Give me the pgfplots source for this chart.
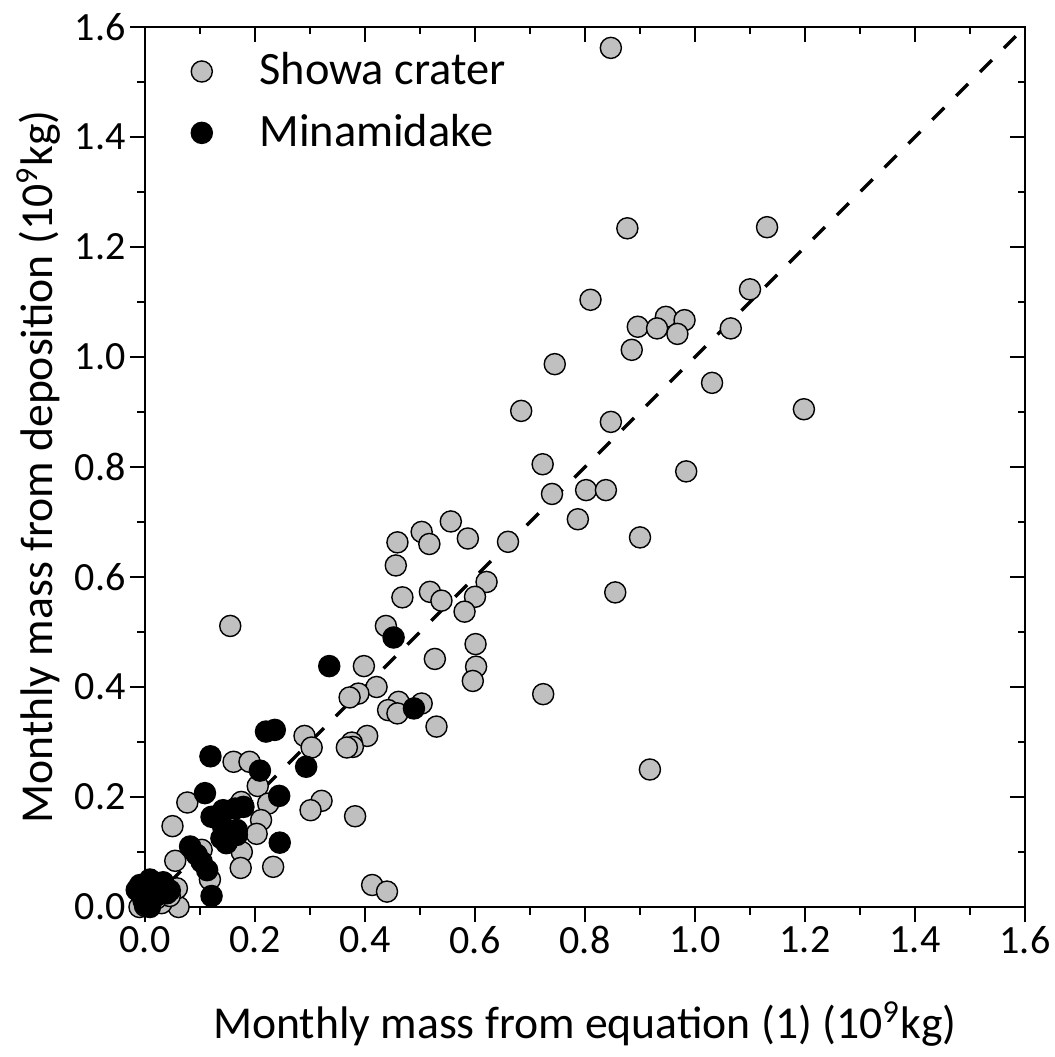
\documentclass[border=0pt]{standalone}
\usepackage{pgfplots}
\pgfplotsset{compat=1.18}
\usepackage{fontspec}
\setmainfont{Carlito}
\definecolor{showa}{RGB}{192,192,192}

\pgfplotstableread{
x y
0.847 1.562
0.877 1.234
1.131 1.236
0.810 1.104
1.100 1.123
0.947 1.073
0.981 1.067
0.896 1.055
0.931 1.052
0.968 1.042
1.065 1.052
0.885 1.013
0.745 0.987
1.031 0.953
1.198 0.905
0.684 0.902
0.847 0.882
0.723 0.805
0.984 0.792
0.802 0.758
0.838 0.758
0.740 0.751
0.787 0.705
0.556 0.701
0.503 0.682
0.900 0.672
0.587 0.670
0.660 0.664
0.459 0.663
0.517 0.660
0.456 0.621
0.621 0.591
0.855 0.572
0.518 0.573
0.468 0.563
0.600 0.564
0.539 0.557
0.581 0.537
0.155 0.511
0.438 0.511
0.601 0.478
0.527 0.451
0.398 0.438
0.602 0.437
0.421 0.400
0.596 0.411
0.724 0.387
0.388 0.388
0.372 0.381
0.461 0.373
0.503 0.370
0.442 0.358
0.459 0.352
0.530 0.328
0.290 0.311
0.404 0.311
0.303 0.290
0.376 0.299
0.378 0.291
0.367 0.290
0.918 0.250
0.161 0.264
0.190 0.264
0.205 0.220
0.224 0.188
0.175 0.191
0.077 0.190
0.321 0.193
0.301 0.176
0.382 0.165
0.211 0.158
0.050 0.147
0.203 0.133
0.176 0.100
0.103 0.104
0.055 0.084
0.174 0.071
0.233 0.073
0.118 0.050
0.061 0.000
0.413 0.040
0.440 0.028
-0.010 0.000
0.000 0.002
0.030 0.007
0.058 0.034
0.045 0.020
0.020 0.015
}\showatab

\pgfplotstableread{
x y
0.452 0.490
0.335 0.438
0.489 0.361
0.220 0.319
0.236 0.322
0.293 0.255
0.119 0.274
0.209 0.248
0.244 0.202
0.109 0.207
0.121 0.164
0.142 0.176
0.164 0.179
0.179 0.182
0.167 0.140
0.142 0.146
0.139 0.125
0.148 0.116
0.167 0.131
0.245 0.117
0.082 0.110
0.094 0.095
0.103 0.082
0.113 0.067
0.121 0.020
-0.009 0.040
0.009 0.050
0.033 0.045
-0.015 0.031
0.021 0.031
0.045 0.030
-0.003 0.013
0.009 0.000
0.020 0.020
0.030 0.035
0.040 0.025
0.000 0.005
}\minamitab

\begin{document}
\begin{tikzpicture}
\pgfplotsset{
  myframe/.style={
    at={(0,0)}, anchor=south west,
    scale only axis, width=8.8cm, height=8.8cm,
    xmin=0, xmax=1.6, ymin=0, ymax=1.6,
    clip=false,
    axis line style={line width=0.8pt},
    every tick/.style={line width=0.8pt, black},
    major tick length=0.15cm, minor tick length=0.075cm,
    xtick={0,0.2,...,1.6}, ytick={0,0.2,...,1.6}, minor tick num=1,
  }
}
% inner ticks on top and right
\begin{axis}[myframe,
  tick align=inside, xtick pos=right, ytick pos=right,
  xticklabels={}, yticklabels={}]
\end{axis}
\begin{axis}[myframe,
  tick align=outside, xtick pos=left, ytick pos=left,
  ticklabel style={font=\fontsize{11.4}{13}\selectfont},
  xticklabel style={yshift=0.08cm},
  yticklabel style={xshift=0.08cm},
  /pgf/number format/.cd, fixed, fixed zerofill, precision=1, assume math mode=true,
  /pgfplots/.cd,
  xlabel={Monthly mass from equation (1) (10\textsuperscript{9}kg)},
  ylabel={Monthly mass from deposition (10\textsuperscript{9}kg)},
  label style={font=\fontsize{13.0}{16}\selectfont},
  xlabel style={at={(axis description cs:0.5,-0.133)}, anchor=center},
  ylabel style={at={(axis description cs:-0.121,0.5)}, anchor=center, rotate=0},
  legend style={at={(rel axis cs:0,1)}, anchor=north west, draw=none, fill=none,
    font=\fontsize{13.2}{16}\selectfont, xshift=0.35cm, yshift=-0.11cm, row sep=2.8pt},
  legend cell align=left,
  legend image code/.code={\draw[#1] plot coordinates {(0cm,0cm)};},
  /tikz/every odd column/.append style={column sep=0.4cm},
]
\addplot[black, line width=1pt, dash pattern=on 4.8pt off 4.8pt, forget plot] coordinates {(0,0) (1.6,1.6)};
\addplot[only marks, mark=*, mark size=3pt, mark options={fill=showa, draw=black, line width=0.4pt}] table[x=x,y=y] {\showatab};
\addlegendentry{Showa crater}
\addplot[only marks, mark=*, mark size=3pt, mark options={fill=black, draw=black, line width=0.4pt}] table[x=x,y=y] {\minamitab};
\addlegendentry{Minamidake}
\end{axis}
\pgfresetboundingbox
\path[use as bounding box] (-1.45cm,-1.50cm) rectangle (9.09cm,9.07cm);
\end{tikzpicture}
\end{document}
